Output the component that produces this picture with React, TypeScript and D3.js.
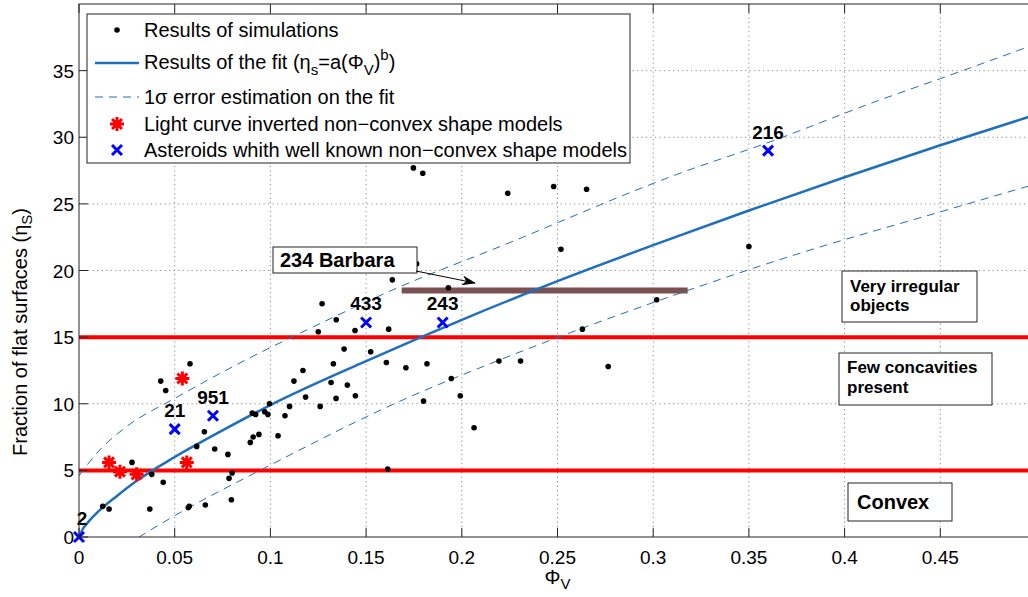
import * as d3 from 'd3'

// Results of simulations: [Φv, ηs]
const simulations: [number, number][] = [
  [0.0124, 2.3], [0.0157, 2.1], [0.0277, 5.6], [0.037, 2.1], [0.038, 4.7],
  [0.0427, 11.7], [0.044, 4.1], [0.0453, 11.0], [0.0571, 2.2], [0.0576, 2.3],
  [0.058, 13.0], [0.0615, 6.8], [0.0655, 7.9], [0.066, 2.4], [0.0709, 6.6],
  [0.0778, 6.2], [0.0784, 4.4], [0.0796, 2.8], [0.08, 4.8], [0.0895, 7.1],
  [0.0905, 9.3], [0.091, 7.5], [0.0923, 9.2], [0.094, 7.7], [0.097, 9.4],
  [0.0987, 9.2], [0.0995, 10.0], [0.104, 7.6], [0.1076, 9.1], [0.11, 9.8],
  [0.1123, 11.7], [0.117, 12.5], [0.1184, 10.5], [0.125, 15.4], [0.126, 9.8],
  [0.127, 17.5], [0.1317, 11.6], [0.1329, 13.0], [0.1343, 10.4], [0.1344, 16.3],
  [0.1385, 14.1], [0.1402, 11.4], [0.1442, 15.5], [0.1444, 10.6], [0.1524, 13.9],
  [0.1606, 13.1], [0.1613, 5.1], [0.1618, 15.6], [0.1637, 19.3], [0.168, 21.4],
  [0.1708, 12.7], [0.1717, 21.5], [0.1747, 27.7], [0.1764, 20.5], [0.1796, 27.3],
  [0.18, 10.2], [0.1818, 13.0], [0.193, 18.7], [0.1945, 11.9], [0.1992, 10.6],
  [0.2064, 8.2], [0.2194, 13.2], [0.224, 25.8], [0.2307, 13.2], [0.248, 26.3],
  [0.2518, 21.6], [0.263, 15.6], [0.2652, 26.1], [0.2765, 12.8], [0.3018, 17.8],
  [0.35, 21.8],
]

// Light curve inverted non-convex shape models
const lightCurveModels: [number, number][] = [
  [0.0157, 5.6], [0.0214, 4.9], [0.0301, 4.7], [0.054, 11.9], [0.0563, 5.6],
]

// Asteroids with well known non-convex shape models
const knownNames = ['2', '21', '951', '433', '243', '216']
const knownPhi = [0, 0.05, 0.07, 0.15, 0.19, 0.36]
const knownEta = [0, 8.1, 9.1, 16.1, 16.1, 29.0]

// fit curve and 1 sigma bounds
const fitCurve: [number, number][] = [
  [0, 0], [0.002, 0.6], [0.005, 1.15], [0.01, 1.9], [0.02, 3.1], [0.03, 4.2],
  [0.05, 6.0], [0.075, 8.0], [0.1, 9.9], [0.15, 13.2], [0.2, 16.3], [0.25, 19.2],
  [0.3, 21.9], [0.35, 24.5], [0.4, 27.0], [0.45, 29.4], [0.5, 31.7],
]
const fitUpper: [number, number][] = [
  [0, 4.6], [0.01, 6.4], [0.025, 8.3], [0.05, 10.4], [0.09, 13.5], [0.117, 15.4],
  [0.168, 18.8], [0.22, 21.8], [0.314, 27.3], [0.36, 29.6], [0.4185, 32.8],
  [0.45, 34.4], [0.5, 37.0],
]
const fitLower: [number, number][] = [
  [0.025, -0.6], [0.0293, -0.2], [0.05, 1.6], [0.0946, 5.0], [0.1694, 10.3],
  [0.22, 13.3], [0.314, 18.3], [0.3767, 21.3], [0.45, 24.4], [0.5, 26.5],
]

const classLimits = [5, 15]
const barbaraPhi = [0.1686, 0.318]
const barbaraEta = 18.5

const xTicks = [0, 0.05, 0.1, 0.15, 0.2, 0.25, 0.3, 0.35, 0.4, 0.45, 0.5]
const yTicks = [0, 5, 10, 15, 20, 25, 30, 35]

const W = 1028
const H = 597
const left = 79
const right = 1036
const top = 4
const bottom = 537

const BLUE_FIT = '#1f6fba'
const FONT = '"Liberation Sans", Arial, Helvetica, sans-serif'

function Asterisk({ cx, cy, r = 7 }: { cx: number; cy: number; r?: number }) {
  const d = [0, 45, 90, 135]
    .map((a) => {
      const t = (a * Math.PI) / 180
      const dx = r * Math.cos(t)
      const dy = r * Math.sin(t)
      return `M${cx - dx},${cy - dy}L${cx + dx},${cy + dy}`
    })
    .join('')
  return <path d={d} stroke="#ff0000" strokeWidth={3} fill="none" />
}

function Cross({ cx, cy, r = 5 }: { cx: number; cy: number; r?: number }) {
  return (
    <path
      d={`M${cx - r},${cy - r}L${cx + r},${cy + r}M${cx - r},${cy + r}L${cx + r},${cy - r}`}
      stroke="#0000ff"
      strokeWidth={3}
      fill="none"
    />
  )
}

export default function App() {
  const x = d3.scaleLinear().domain([0, 0.5]).range([left, right])
  const y = d3.scaleLinear().domain([0, 40]).range([bottom, top])

  const line = d3
    .line<[number, number]>()
    .x((d) => x(d[0]))
    .y((d) => y(d[1]))
    .curve(d3.curveMonotoneX)

  return (
    <svg
      width={W}
      height={H}
      style={{ position: 'absolute', left: 0, top: 0, background: '#fff' }}
      fontFamily={FONT}
    >
      <defs>
        <clipPath id="plot">
          <rect x={left} y={top} width={right - left} height={bottom - top} />
        </clipPath>
        <marker id="arrow" viewBox="0 0 14 10" refX={13} refY={5} markerWidth={14} markerHeight={10} markerUnits="userSpaceOnUse" orient="auto">
          <path d="M0,0L14,5L0,10L4,5z" fill="#000" />
        </marker>
      </defs>

      {/* grid */}
      <g stroke="#8a8a8a" strokeWidth={1} strokeDasharray="1.2,3.3">
        {xTicks.filter((t) => t > 0 && t < 0.5).map((t) => (
          <line key={`gx${t}`} x1={x(t)} x2={x(t)} y1={top} y2={bottom} />
        ))}
        {yTicks.filter((t) => t > 0).map((t) => (
          <line key={`gy${t}`} x1={left} x2={right} y1={y(t)} y2={y(t)} />
        ))}
      </g>

      <g clipPath="url(#plot)">
        {classLimits.map((v) => (
          <line key={`c${v}`} x1={left} x2={right} y1={y(v)} y2={y(v)} stroke="#ff0000" strokeWidth={4} />
        ))}
        <line
          x1={x(barbaraPhi[0])}
          x2={x(barbaraPhi[1])}
          y1={y(barbaraEta)}
          y2={y(barbaraEta)}
          stroke="#7a5050"
          strokeWidth={6}
        />
        <path d={line(fitUpper) ?? ''} fill="none" stroke={BLUE_FIT} strokeWidth={1} strokeDasharray="8,6" />
        <path d={line(fitLower) ?? ''} fill="none" stroke={BLUE_FIT} strokeWidth={1} strokeDasharray="8,6" />
        <path d={line(fitCurve) ?? ''} fill="none" stroke={BLUE_FIT} strokeWidth={2.5} />
      </g>

      {simulations.map((d, i) => (
        <circle key={`s${i}`} cx={x(d[0])} cy={y(d[1])} r={2.8} fill="#000" />
      ))}
      {lightCurveModels.map((d, i) => (
        <Asterisk key={`l${i}`} cx={x(d[0])} cy={y(d[1])} />
      ))}
      {knownNames.map((n, i) => (
        <g key={`k${n}`}>
          <Cross cx={x(knownPhi[i])} cy={y(knownEta[i])} />
          <text
            x={x(knownPhi[i]) + (i === 0 ? 3 : 0)}
            y={y(knownEta[i]) - 12}
            textAnchor="middle"
            fontWeight="bold"
            fontSize={19}
          >
            {n}
          </text>
        </g>
      ))}

      {/* 234 Barbara annotation */}
      <rect x={273} y={247} width={144} height={26} fill="#fff" stroke="#222" strokeWidth={1} />
      <text x={280} y={267} fontWeight="bold" fontSize={20}>234 Barbara</text>
      <line x1={416} y1={271} x2={475} y2={283} stroke="#000" strokeWidth={1} markerEnd="url(#arrow)" />

      {/* classification boxes */}
      <rect x={842} y={271} width={135} height={51} fill="#fff" stroke="#222" strokeWidth={1} />
      <text x={850} y={292} fontWeight="bold" fontSize={17}>Very irregular</text>
      <text x={850} y={311} fontWeight="bold" fontSize={17}>objects</text>
      <rect x={839} y={353} width={153} height={52} fill="#fff" stroke="#222" strokeWidth={1} />
      <text x={847} y={373} fontWeight="bold" fontSize={17}>Few concavities</text>
      <text x={847} y={393} fontWeight="bold" fontSize={17}>present</text>
      <rect x={848} y={483} width={104} height={38} fill="#fff" stroke="#222" strokeWidth={1} />
      <text x={857} y={509} fontWeight="bold" fontSize={20}>Convex</text>

      {/* axes box */}
      <rect x={left} y={top} width={right - left} height={bottom - top} fill="none" stroke="#262626" strokeWidth={1} />
      <g stroke="#262626" strokeWidth={1}>
        {xTicks.map((t) => (
          <g key={`tx${t}`}>
            <line x1={x(t)} x2={x(t)} y1={bottom} y2={bottom - 9} />
            <line x1={x(t)} x2={x(t)} y1={top} y2={top + 9} />
          </g>
        ))}
        {yTicks.map((t) => (
          <line key={`ty${t}`} x1={left} x2={left + 9} y1={y(t)} y2={y(t)} />
        ))}
      </g>
      <g fontSize={19} fill="#000">
        {xTicks.filter((t) => t < 0.5).map((t) => (
          <text key={`lx${t}`} x={x(t)} y={bottom + 27} textAnchor="middle">
            {d3.format('~g')(t)}
          </text>
        ))}
        {yTicks.map((t) => (
          <text key={`ly${t}`} x={left - 5} y={y(t) + 7} textAnchor="end">
            {t}
          </text>
        ))}
      </g>

      {/* axis titles */}
      <text x={(left + right) / 2} y={584} textAnchor="middle" fontSize={20}>
        Φ<tspan dy={5} fontSize={15}>V</tspan>
      </text>
      <text transform="translate(27,332) rotate(-90)" textAnchor="middle" fontSize={20}>
        Fraction of flat surfaces (η<tspan dy={5} fontSize={15}>S</tspan><tspan dy={-5}>)</tspan>
      </text>

      {/* legend */}
      <rect x={87} y={14} width={543} height={149} fill="#fff" stroke="#222" strokeWidth={1} />
      <circle cx={117} cy={30} r={2.8} fill="#000" />
      <line x1={95} x2={139} y1={63} y2={63} stroke={BLUE_FIT} strokeWidth={2.5} />
      <line x1={95} x2={139} y1={97} y2={97} stroke={BLUE_FIT} strokeWidth={1} strokeDasharray="8,6" />
      <Asterisk cx={117} cy={124} />
      <Cross cx={117} cy={150} />
      <g fontSize={20} fill="#000">
        <text x={144} y={37}>Results of simulations</text>
        <text x={144} y={69}>
          Results of the fit (η<tspan dy={6} fontSize={15}>s</tspan>
          <tspan dy={-6}>=a(Φ</tspan>
          <tspan dy={6} fontSize={15}>V</tspan>
          <tspan dy={-6}>)</tspan>
          <tspan dy={-9} fontSize={15}>b</tspan>
          <tspan dy={9}>)</tspan>
        </text>
        <text x={144} y={104}>1σ error estimation on the fit</text>
        <text x={144} y={131}>Light curve inverted non−convex shape models</text>
        <text x={144} y={157}>Asteroids whith well known non−convex shape models</text>
      </g>
    </svg>
  )
}
